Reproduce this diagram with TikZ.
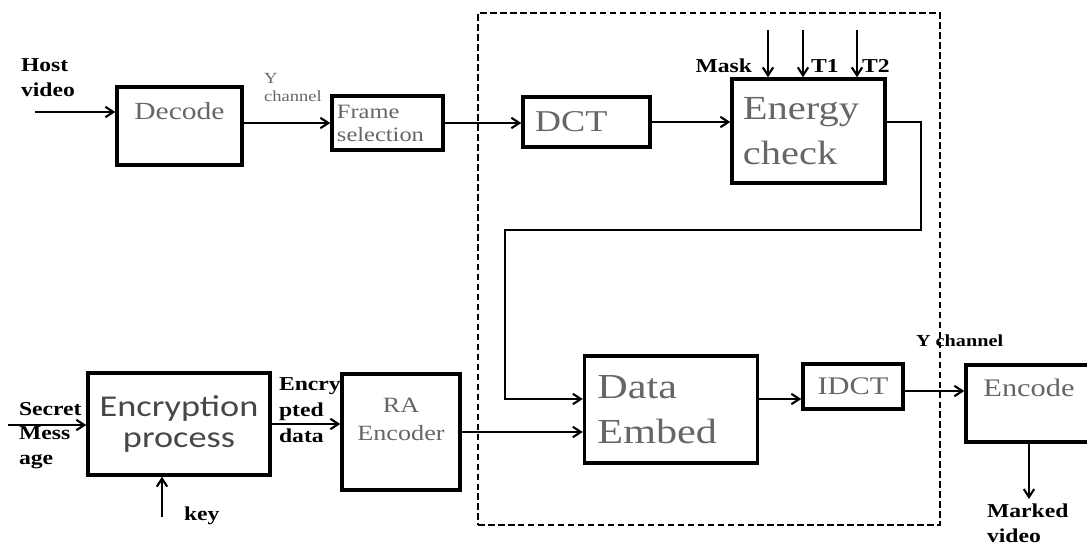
\documentclass[tikz,border=0pt]{standalone}
\usepackage{fontspec}
\newfontfamily\dfont[FakeStretch=1.2]{Liberation Serif}
\newfontfamily\cfont[FakeStretch=1.2]{Carlito}
\usetikzlibrary{calc, arrows.meta}

\begin{document}
\begin{tikzpicture}[x=0.025cm, y=-0.025cm, line width=1.5pt,
  blk/.style={draw, line width=2.4pt, inner sep=0pt, text=black!60, font=\dfont},
  lbl/.style={font=\dfont\bfseries\fontsize{14}{17.5}\selectfont, align=left, inner sep=0pt},
  grp/.style={draw, line width=1.5pt, dash pattern=on 4.7pt off 2.4pt, inner sep=0pt},
  >={Straight Barb[length=2mm, width=2.6mm]}]
  \useasboundingbox (0,0) rectangle (1087,546);

  % processing area
  \node[grp, minimum width=11.55cm, minimum height=12.8cm] (core) at (709,269) {};

  % upper chain
  \node[blk, minimum width=3.125cm, minimum height=1.95cm, font=\dfont\fontsize{17.5}{20}\selectfont, text depth=22pt] (dec) at (179.5,126) {Decode};
  \node[blk, minimum width=2.775cm, minimum height=1.35cm, text width=2.525cm, align=left, font=\dfont\fontsize{14.5}{16.3}\selectfont] (frm) at (387.5,123) {Frame\\selection};
  \node[blk, minimum width=3.175cm, minimum height=1.25cm, text width=2.575cm, align=left, font=\dfont\fontsize{21.5}{24}\selectfont] (dct) at (586.5,122) {DCT};
  \node[blk, minimum width=3.825cm, minimum height=2.6cm, text width=3.275cm, align=left, font=\dfont\fontsize{24}{32}\selectfont] (eng) at (808.5,131) {Energy\\check};

  % lower chain
  \node[blk, minimum width=4.55cm, minimum height=2.55cm, text width=4.2cm, align=center, text=black!72, font=\cfont\fontsize{21.5}{22.7}\selectfont] (encr) at (179,424) {Encryption\\process};
  \node[blk, minimum width=2.95cm, minimum height=2.9cm, text width=2.6cm, align=center, font=\dfont\fontsize{15.5}{20}\selectfont, text depth=38pt] (ra) at (401,432) {RA\\Encoder};
  \node[blk, minimum width=4.325cm, minimum height=2.675cm, text width=3.675cm, align=left, font=\dfont\fontsize{25}{32}\selectfont] (emb) at (671,409.5) {Data\\Embed};
  \node[blk, minimum width=2.5cm, minimum height=1.125cm, font=\dfont\fontsize{18}{20}\selectfont] (idct) at (853,386.5) {IDCT};
  \node[blk, minimum width=3.15cm, minimum height=1.925cm, font=\dfont\fontsize{18}{20}\selectfont, text depth=23pt] (encd) at (1029,403.5) {Encode};

  % free ends
  \coordinate (hv) at (35,112);
  \coordinate (sm) at (8,425);
  \coordinate (ky) at (162,517);
  \coordinate (mk) at (768,30);
  \coordinate (ta) at (803,30);
  \coordinate (tb) at (857,30);
  \coordinate (fbr) at (921,230);
  \coordinate (fbl) at (505,230);
  \coordinate (mv) at (1029,499);

  % labels
  \node[lbl, anchor=north west] (hostl) at (20,58) {Host\\video};
  \node[lbl, anchor=north west, font=\dfont\fontsize{11}{12.8}\selectfont, text=black!60] (ych) at (263,72) {Y\\channel};
  \node[lbl, anchor=base east] (maskl) at (753,72) {Mask};
  \node[lbl, anchor=base west] (tal) at (810,72) {T1};
  \node[lbl, anchor=base west] (tbl) at (861,72) {T2};
  \node[lbl, anchor=base west, font=\dfont\bfseries\fontsize{12}{14}\selectfont] (ychb) at (915,346) {Y channel};
  \node[lbl, anchor=north west] (secl) at (18,401) {Secret\\Mess\\age};
  \node[lbl, anchor=north west, font=\dfont\bfseries\fontsize{14}{18.4}\selectfont] (edl) at (278,377) {Encry\\pted\\data};
  \node[lbl, anchor=base west] (keyl) at (183,520) {key};
  \node[lbl, anchor=north west] (mvl) at (986,503) {Marked\\video};

  % upper connections
  \draw[->] (hv) -- (hv -| dec.west);
  \draw[->] (dec.east |- frm.west) -- (frm.west);
  \draw[->] (frm.east) -- (frm.east -| dct.west);
  \draw[->] (dct.east) -- (dct.east -| eng.west);
  \foreach \p in {mk, ta, tb}
    \draw[->] (\p) -- (\p |- eng.north);

  % energy check back down to the embedder
  \draw[->] (eng.east |- 0,122) -| (fbr) -- (fbl) |- (emb.west |- 0,399);

  % lower connections
  \draw[->] (sm) -- (sm -| encr.west);
  \draw[->] (ky) -- (ky |- encr.south);
  \draw[->] (encr.east) -- (encr.east -| ra.west);
  \draw[->] (ra.east) -- (ra.east -| emb.west);
  \draw[->] (emb.east |- 0,399) -- (idct.west |- 0,399);
  \draw[->] (idct.east |- 0,391) -- (encd.west |- 0,391);
  \draw[->] (encd.south) -- (mv);
\end{tikzpicture}
\end{document}
